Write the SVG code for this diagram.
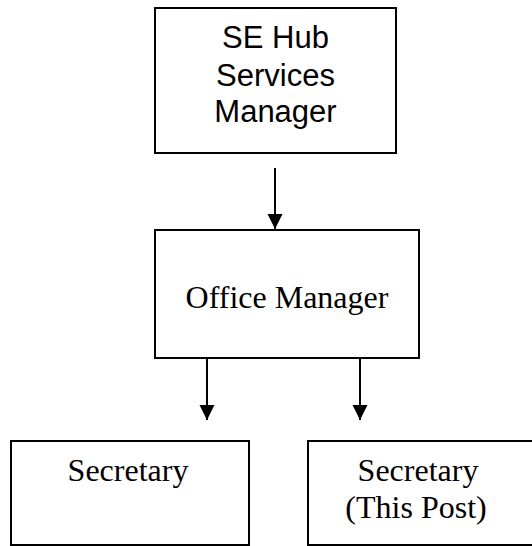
<svg xmlns="http://www.w3.org/2000/svg" width="532" height="546" viewBox="0 0 532 546">
<style>
.box{fill:#fff;stroke:#000;stroke-width:2}
.sans{font-family:"Liberation Sans",Arial,sans-serif;font-size:31px;fill:#000;text-anchor:middle}
.serif{font-family:"Liberation Serif","Times New Roman",serif;font-size:32px;fill:#000;text-anchor:middle}
.conn{stroke:#000;stroke-width:2;fill:none}
</style>
<defs>
<marker id="arr" markerUnits="userSpaceOnUse" markerWidth="16" markerHeight="16" refX="15" refY="7.5" orient="auto">
<path d="M0,0 L15,7.5 L0,15 Z" fill="#000"/>
</marker>
</defs>
<rect width="532" height="546" fill="#fff"/>
<g id="connectors">
<line class="conn" x1="275" y1="168" x2="275" y2="229" marker-end="url(#arr)"/>
<line class="conn" x1="207" y1="358" x2="207" y2="420" marker-end="url(#arr)"/>
<line class="conn" x1="360" y1="358" x2="360" y2="420" marker-end="url(#arr)"/>
</g>
<g id="se-hub">
<rect class="box" x="155" y="8" width="241" height="145"/>
<text class="sans" x="275.5" y="48">SE Hub</text>
<text class="sans" x="275.5" y="86">Services</text>
<text class="sans" x="275.5" y="122">Manager</text>
</g>
<g id="office-manager">
<rect class="box" x="155" y="230" width="264" height="128"/>
<text class="serif" x="287" y="308">Office Manager</text>
</g>
<g id="secretary">
<rect class="box" x="11" y="441" width="238" height="104"/>
<text class="serif" x="128" y="481">Secretary</text>
</g>
<g id="secretary-this-post">
<rect class="box" x="308" y="441" width="240" height="104"/>
<text class="serif" x="418" y="481">Secretary</text>
<text class="serif" x="416" y="518">(This Post)</text>
</g>
</svg>
